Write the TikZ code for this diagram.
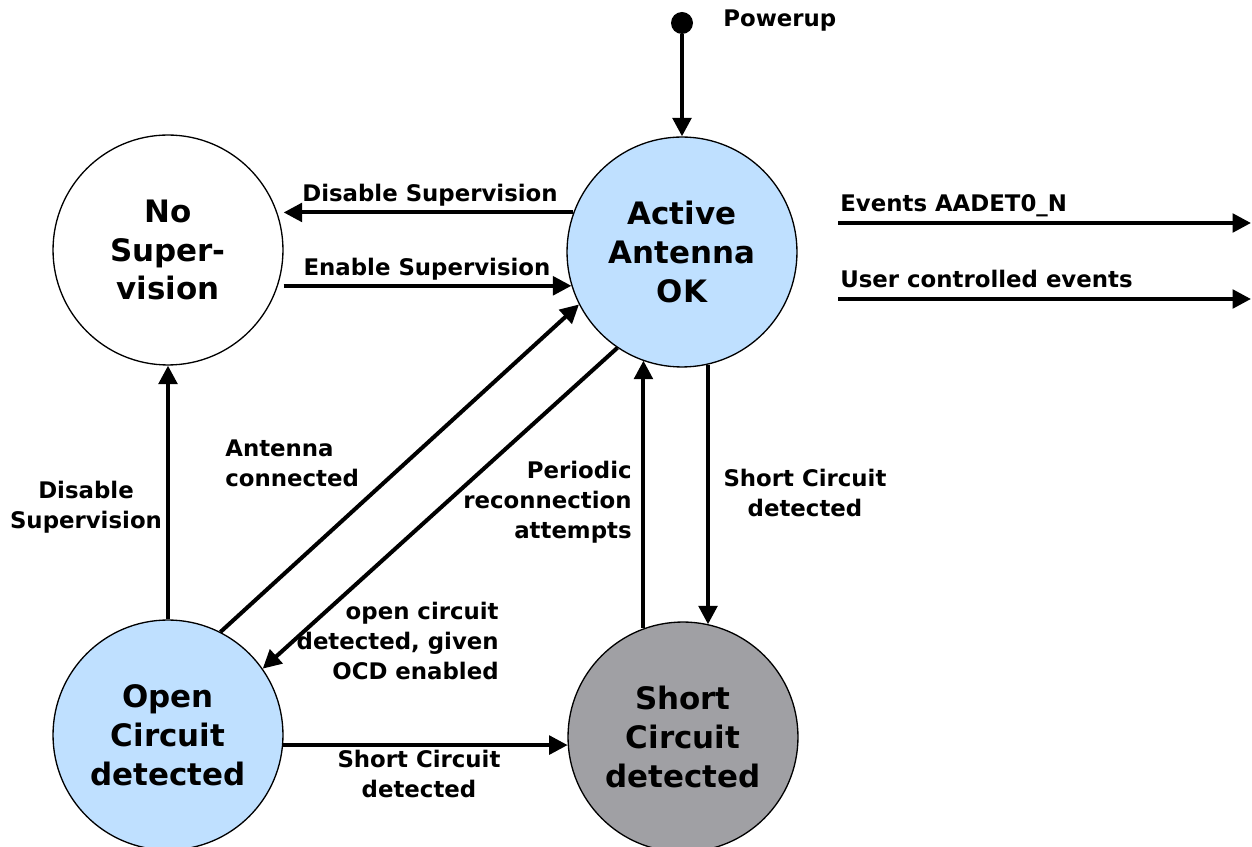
\documentclass[tikz,border=0pt]{standalone}
\usepackage{fontspec}
\setmainfont{DejaVu Sans}
\usetikzlibrary{arrows.meta}
\definecolor{okblue}{RGB}{191,224,255}
\definecolor{scgray}{RGB}{160,160,164}
\tikzset{
  state/.style={draw,circle,line width=0.75pt,minimum size=4.6cm,inner sep=0pt,
    align=center,font=\bfseries\fontsize{17.6}{22.1}\selectfont},
  trans/.style={line width=2.3pt,-{Triangle[length=10.5pt,width=10.5pt]}},
  lbl/.style={inner sep=0pt,font=\bfseries\fontsize{13}{17}\selectfont}
}
\begin{document}
\begin{tikzpicture}[x=0.02cm,y=-0.02cm]
\useasboundingbox (0,0) rectangle (1252,847);

%States

\node[state] (nosup) at (168,250) {No\\Super-\\vision};
\node[state,fill=okblue] (act) at (682,252) {Active\\Antenna\\OK};
\node[state,fill=okblue] (opn) at (168,735) {Open\\Circuit\\detected};
\node[state,fill=scgray] (sc) at (683,737) {Short\\Circuit\\detected};

\node[circle,fill,inner sep=0pt,minimum size=0.44cm] (pwr) at (682,23) {};
\node[lbl,anchor=base west] (pwrl) at (723,27) {Powerup};

%Transitions

\draw[trans] (pwr) -- (act.north);
\draw[trans] (act.160) -- (act.160 -| nosup.east);
\draw[trans] (nosup.east |- act.197) -- (act.197);
\draw[trans] (opn.north) -- (nosup.south);
\draw[trans] (opn.63) -- (act.207);
\draw[trans] (act.236) -- (opn.35);
\draw[trans] (sc.110) -- (sc.110 |- act.250);
\draw[trans] (act.283) -- (act.283 |- sc.77);
\draw[trans] (opn.355) -- (opn.355 -| sc.184);

\node[lbl,anchor=base] (dsl) at (430,202) {Disable Supervision};
\node[lbl,anchor=base] (esl) at (427,276) {Enable Supervision};
\node[lbl,align=left,anchor=west] (acl) at (225,463) {Antenna\\connected};
\node[lbl,align=center] (dsl2) at (86,507) {Disable\\Supervision};
\node[lbl,align=right,anchor=east] (prl) at (632,502) {Periodic\\reconnection\\attempts};
\node[lbl,align=center] (scl) at (805,493) {Short Circuit\\detected};
\node[lbl,align=right,anchor=east] (ocl) at (499,641) {open circuit\\detected, given\\OCD enabled};
\node[lbl,align=center] (scl2) at (419,774) {Short Circuit\\detected};

%Events

\coordinate (ev1s) at (838,223);
\coordinate (ev1e) at (1251,223);
\coordinate (ev2s) at (838,299);
\coordinate (ev2e) at (1251,299);
\draw[trans] (ev1s) -- (ev1e);
\draw[trans] (ev2s) -- (ev2e);
\node[lbl,anchor=base west] (ev1l) at (840,212) {Events AADET0\_N};
\node[lbl,anchor=base west] (ev2l) at (840,288) {User controlled events};

\end{tikzpicture}
\end{document}
